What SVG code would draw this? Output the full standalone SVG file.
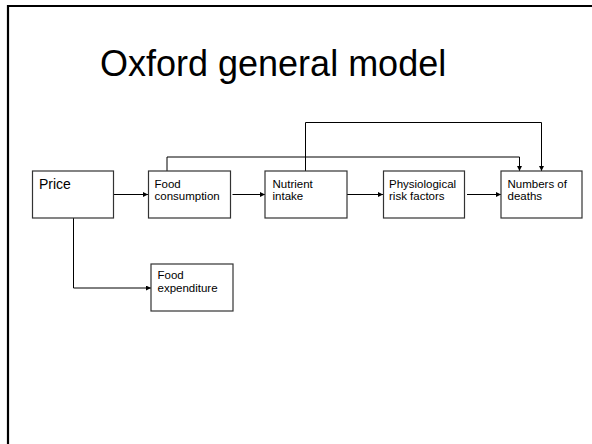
<svg xmlns="http://www.w3.org/2000/svg" width="592" height="444" viewBox="0 0 592 444">
<style>
.box{fill:#fff;stroke:#333;stroke-width:1.2}
.t{font-family:"Liberation Sans",Arial,sans-serif;fill:#000}
.s{font-size:11.5px}
.c{fill:none;stroke:#000;stroke-width:1}
</style>
<defs>
<marker id="ah" markerUnits="userSpaceOnUse" markerWidth="6" markerHeight="6" refX="5" refY="2.5" orient="auto">
<path d="M0,0 L5,2.5 L0,5 z" fill="#000"/>
</marker>
</defs>
<rect x="0" y="0" width="592" height="444" fill="#fff"/>
<path d="M8,450 V6 H600" fill="none" stroke="#000" stroke-width="2.2"/>
<text class="t" x="100" y="76" font-size="36">Oxford general model</text>
<g id="connectors">
<path class="c" d="M113.5,194.5 H148" marker-end="url(#ah)"/>
<path class="c" d="M232.5,194.5 H265" marker-end="url(#ah)"/>
<path class="c" d="M345,194.5 H383" marker-end="url(#ah)"/>
<path class="c" d="M467,194.5 H501" marker-end="url(#ah)"/>
<path class="c" d="M167,171 V157 H519.5 V171" marker-end="url(#ah)"/>
<path class="c" d="M305.5,171 V122.5 H541.5 V171" marker-end="url(#ah)"/>
<path class="c" d="M73.5,218 V288 H151" marker-end="url(#ah)"/>
</g>
<g id="price"><rect class="box" x="32.5" y="171" width="81" height="47"/><text class="t" x="39" y="189" font-size="14">Price</text></g>
<g id="food-consumption"><rect class="box" x="148.5" y="171" width="82" height="47"/><text class="t s" x="154.5" y="187.5">Food</text><text class="t s" x="154.5" y="200">consumption</text></g>
<g id="nutrient-intake"><rect class="box" x="265" y="171" width="82" height="47"/><text class="t s" x="272.5" y="187.5">Nutrient</text><text class="t s" x="272.5" y="200">intake</text></g>
<g id="risk-factors"><rect class="box" x="383.5" y="171" width="81" height="47"/><text class="t s" x="389" y="187.5">Physiological</text><text class="t s" x="389" y="200">risk factors</text></g>
<g id="deaths"><rect class="box" x="501" y="171" width="81" height="47"/><text class="t s" x="507.5" y="187.5">Numbers of</text><text class="t s" x="507.5" y="200">deaths</text></g>
<g id="food-expenditure"><rect class="box" x="151" y="264" width="82" height="47"/><text class="t s" x="157.5" y="278.5">Food</text><text class="t s" x="157.5" y="291.5">expenditure</text></g>
</svg>
